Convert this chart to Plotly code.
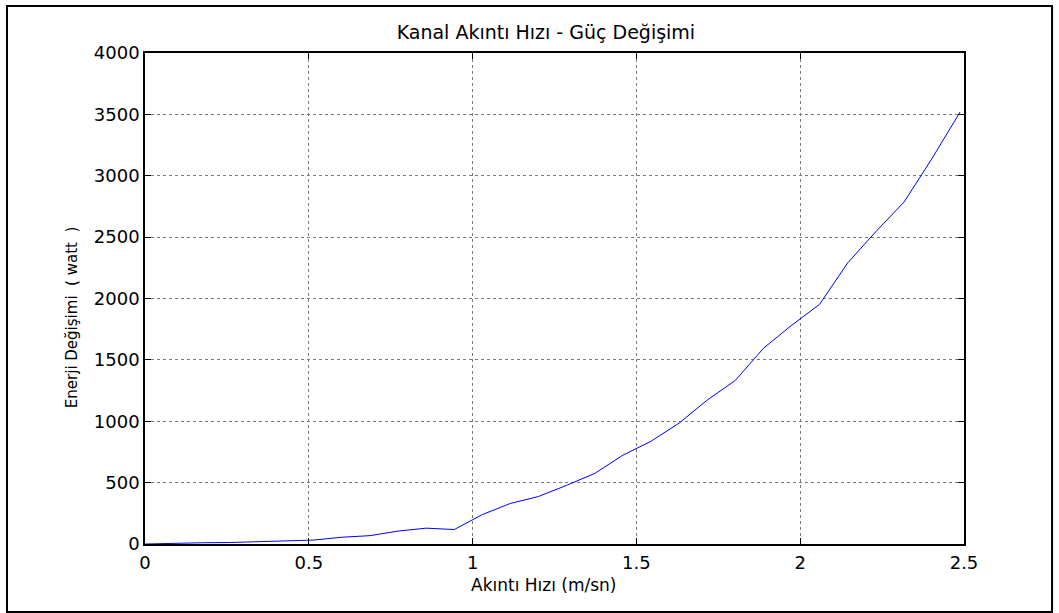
import plotly.graph_objects as go

# Current speed (m/sn) and corresponding power (watt)
akinti_hizi = [0.000, 0.086, 0.172, 0.257, 0.343, 0.429, 0.515, 0.600, 0.687, 0.772,
               0.858, 0.944, 1.030, 1.115, 1.201, 1.287, 1.373, 1.459, 1.544, 1.630,
               1.716, 1.802, 1.888, 1.973, 2.059, 2.145, 2.231, 2.317, 2.402, 2.488]
enerji = [0, 8, 10, 12, 18, 24, 32, 55, 68, 105,
          129, 118, 240, 330, 387, 478, 575, 724, 836, 984,
          1172, 1333, 1595, 1780, 1952, 2290, 2545, 2786, 3139, 3519]

x_ticks = [0, 0.5, 1, 1.5, 2, 2.5]
x_tick_text = ["0", "0.5", "1", "1.5", "2", "2.5"]
y_ticks = [0, 500, 1000, 1500, 2000, 2500, 3000, 3500, 4000]

FONT = "DejaVu Sans, Liberation Sans, Arial, sans-serif"
FS = 18

fig = go.Figure()
fig.add_trace(go.Scatter(
    x=akinti_hizi, y=enerji, mode="lines",
    line=dict(color="#0000ff", width=1),
    showlegend=False,
))

axis_common = dict(
    showline=True, linecolor="black", linewidth=1.5, mirror="ticks",
    ticks="inside", ticklen=6, tickcolor="black", tickwidth=1,
    showgrid=True, gridcolor="#7a7a7a", griddash="dot", gridwidth=1,
    zeroline=False,
    tickfont=dict(family=FONT, size=FS, color="black"),
)

fig.update_xaxes(range=[0, 2.5], tickvals=x_ticks, ticktext=x_tick_text,
                 ticklabelstandoff=2, **axis_common)
fig.update_yaxes(range=[0, 4000], tickvals=y_ticks, **axis_common)

fig.update_layout(
    width=1059, height=613,
    margin=dict(l=145, r=95, t=53, b=69),
    paper_bgcolor="white", plot_bgcolor="white",
    title=dict(text="Kanal Akıntı Hızı - Güç Değişimi", xref="paper", x=0.4895, xanchor="center",
               y=1 - 32 / 613, yanchor="middle",
               font=dict(family=FONT, size=19, color="black")),
    annotations=[
        dict(text="Akıntı Hızı (m/sn)", xref="paper", yref="paper",
             x=0.4866, y=-0.0835, xanchor="center", yanchor="middle", showarrow=False,
             font=dict(family=FONT, size=17, color="black")),
        dict(text="Enerji Değişimi  ( watt  )", xref="paper", yref="paper",
             x=-0.0891, y=0.46, xanchor="center", yanchor="middle", showarrow=False,
             textangle=-90, font=dict(family=FONT, size=15, color="black")),
    ],
    shapes=[dict(type="rect", xref="paper", yref="paper",
                 x0=-0.1685, x1=1.1075, y0=-0.1385, y1=1.0957,
                 line=dict(color="black", width=2), fillcolor="rgba(0,0,0,0)", layer="below")],
)

fig.write_html("out.html")
